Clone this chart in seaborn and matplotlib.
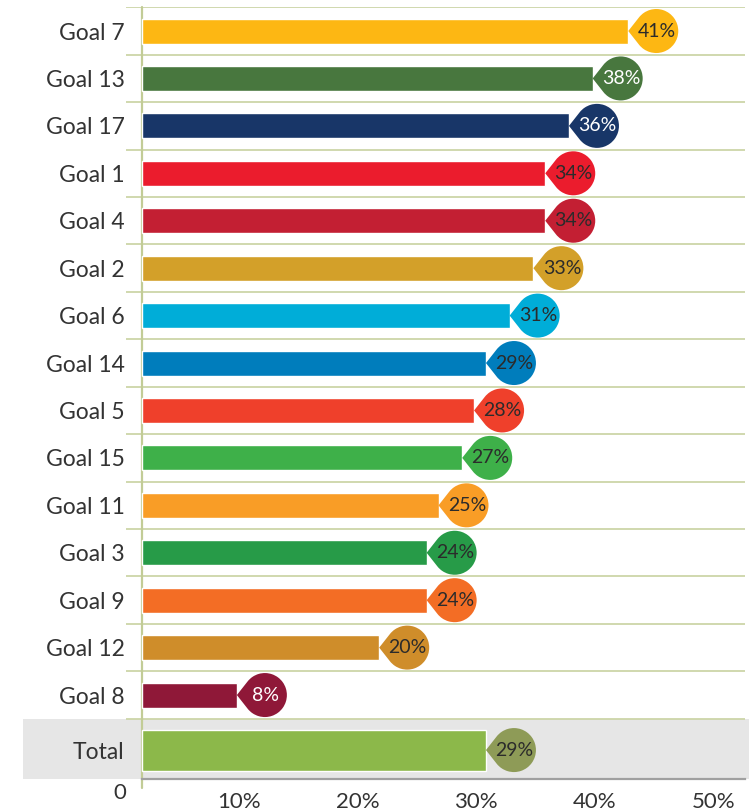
import numpy as np
import pandas as pd
import seaborn as sns
import matplotlib.pyplot as plt
from matplotlib.path import Path
from matplotlib.markers import MarkerStyle

labels = ['Goal 7', 'Goal 13', 'Goal 17', 'Goal 1', 'Goal 4', 'Goal 2', 'Goal 6',
          'Goal 14', 'Goal 5', 'Goal 15', 'Goal 11', 'Goal 3', 'Goal 9', 'Goal 12', 'Goal 8']
values = [41, 38, 36, 34, 34, 33, 31, 29, 28, 27, 25, 24, 24, 20, 8]
colors = ['#FDB713', '#48773E', '#183668', '#EB1C2D', '#C31F33', '#D3A029', '#00ADD8',
          '#007DBC', '#EF402B', '#3EB049', '#F99D26', '#279B48', '#F36D25', '#CF8D2A', '#8F1838']
text_colors = ['#2B2B2B', 'white', 'white', '#2B2B2B', '#2B2B2B', '#2B2B2B', '#2B2B2B',
               '#2B2B2B', '#2B2B2B', '#2B2B2B', '#2B2B2B', '#2B2B2B', '#2B2B2B', '#2B2B2B', 'white']
total_label = 'Total'
total_value = 29
total_bar_color = '#8CB84A'
total_marker_color = '#8E9B57'
xticks = [10, 20, 30, 40, 50]
xtick_labels = ['10%', '20%', '30%', '40%', '50%']

sns.set_style('white')
plt.rcParams['font.family'] = ['Lato', 'DejaVu Sans']

pos = np.arange(len(labels), dtype=float)
total_pos = 15.16
goals = pd.DataFrame({'label': labels, 'value': values, 'pos': pos})
points = pd.DataFrame({'label': labels + [total_label],
                       'value': values + [total_value],
                       'pos': list(pos) + [total_pos]})
marker_pal = dict(zip(labels, colors))
marker_pal[total_label] = total_marker_color

# teardrop marker, tip at the origin pointing left
arc = Path.arc(-141.8, 141.8)
verts = arc.vertices * 22 + np.array([28, 0])
tip = np.array([[0.0, 0.0]])
codes = [Path.MOVETO] + [Path.LINETO] + list(arc.codes[1:]) + [Path.CLOSEPOLY]
drop = Path(np.vstack([tip, verts, tip]), codes)

fig = plt.figure(figsize=(7.49, 8.11), dpi=100)
ax = fig.add_axes([126 / 749, 1 - 779 / 811, 619 / 749, (779 - 7.3) / 811])

xmax = (745 - 142) / 11.86
ax.axhspan(14.5, 15.77, xmin=-0.166, xmax=1.006, color='#E6E6E6', lw=0,
           zorder=0, clip_on=False)
for y in list(np.arange(-0.5, 14.0, 1.0)) + [14.5]:
  ax.axhline(y, color='#CDD5A8', lw=1.3, zorder=0.5)
ax.axvline(0, ymin=-0.012, ymax=1, color='#C2CC96', lw=1.6, zorder=0.6, clip_on=False)

sns.barplot(data=goals, x='value', y='pos', hue='label', palette=marker_pal,
            orient='h', native_scale=True, width=0.527, saturation=1,
            legend=False, ax=ax, zorder=2)
ax.barh(total_pos, total_value, height=0.865, color=total_bar_color, zorder=2)

sns.scatterplot(data=points, x='value', y='pos', hue='label', palette=marker_pal,
                marker=MarkerStyle(drop), s=72 ** 2, linewidth=0, legend=False,
                ax=ax, zorder=3)

tcols = text_colors + ['#2B2B2B']
for v, p, c in zip(points.value, points.pos, tcols):
  ax.annotate(f'{v}%', xy=(v, p), xytext=(20.5, 0), textcoords='offset points',
              ha='center', va='center', fontsize=14, color=c, zorder=4)

ax.set_xlim(-16 / 11.86, xmax)
ax.set_ylim(15.77, -0.5)
ax.set_yticks(list(pos) + [total_pos])
ax.set_yticklabels(labels + [total_label], fontsize=16.5, color='#333333')
ax.set_xticks(xticks)
ax.set_xticklabels(xtick_labels, fontsize=16, color='#333333', ha='right')
ax.tick_params(axis='y', length=0, pad=1)
ax.tick_params(axis='x', length=8, width=1, color='#9A9A9A', pad=1, direction='out')
ax.set_xlabel('')
ax.set_ylabel('')

for s in ['top', 'right', 'left']:
  ax.spines[s].set_visible(False)
ax.spines['bottom'].set_color('#A0A0A0')
ax.spines['bottom'].set_linewidth(1.6)
ax.spines['bottom'].set_bounds(0, xmax)

ax.annotate('0', xy=(0, 0), xycoords=('data', 'axes fraction'), xytext=(-11, -3),
            textcoords='offset points', ha='right', va='top', fontsize=16,
            color='#333333')

fig.savefig('out.png', dpi=100)
